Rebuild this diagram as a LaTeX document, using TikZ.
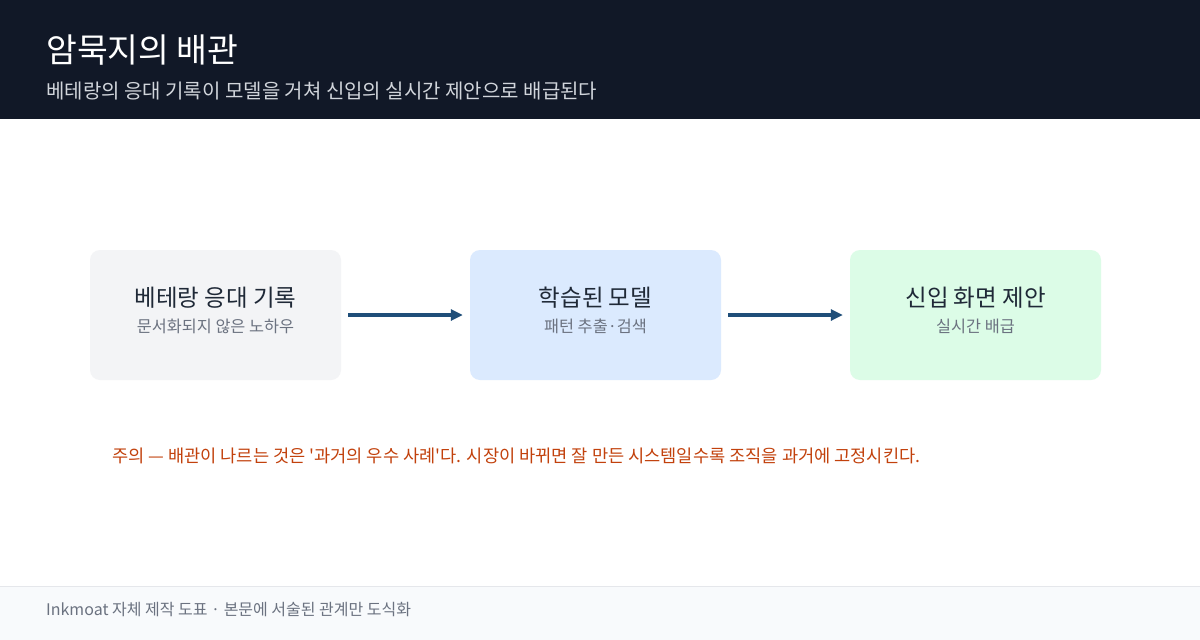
\documentclass[tikz,border=0pt]{standalone}
\usepackage{fontspec}
\setmainfont{Noto Sans CJK KR}
\newfontfamily\kr{Noto Sans CJK KR}
\usetikzlibrary{arrows.meta}
\definecolor{hdr}{HTML}{111827}
\definecolor{subt}{HTML}{D1D5DB}
\definecolor{boxa}{HTML}{F3F4F6}
\definecolor{boxb}{HTML}{DBEAFE}
\definecolor{boxc}{HTML}{DCFCE7}
\definecolor{ttl}{HTML}{1F2937}
\definecolor{grayt}{HTML}{6B7280}
\definecolor{arr}{HTML}{1F4E79}
\definecolor{note}{HTML}{C2410C}
\definecolor{foot}{HTML}{F8FAFC}
\definecolor{footline}{HTML}{E5E7EB}
\tikzset{
  x=1pt,y=-1pt,
  stagebox/.style={draw=none,rounded corners=10pt,minimum width=251pt,minimum height=130pt,inner sep=0pt},
  boxtitle/.style={font=\kr\fontsize{23.5}{28}\selectfont,text=ttl,anchor=base},
  boxsub/.style={font=\kr\fontsize{16.3}{19}\selectfont,text=grayt,anchor=base},
  flow/.style={draw=arr,line width=4pt,-{Triangle[length=12pt,width=11pt]}}
}
\begin{document}
\begin{tikzpicture}
\useasboundingbox (0,0) rectangle (1200,640);
\fill[white] (0,0) rectangle (1200,640);
\fill[hdr] (0,0) rectangle (1200,119);
\node[anchor=base west,inner sep=0pt,text=white,font=\kr\fontsize{33.5}{40}\selectfont] (title) at (46,62) {암묵지의 배관};
\node[anchor=base west,inner sep=0pt,text=subt,font=\kr\fontsize{20}{24}\selectfont] (subtitle) at (46,98) {베테랑의 응대 기록이 모델을 거쳐 신입의 실시간 제안으로 배급된다};
\node[stagebox,fill=boxa] (a) at (215.5,315) {};
\node[stagebox,fill=boxb] (b) at (595.5,315) {};
\node[stagebox,fill=boxc] (c) at (975.5,315) {};
\node[boxtitle] (at) at (215.5,306) {베테랑 응대 기록};
\node[boxsub] (as) at (215.5,332) {문서화되지 않은 노하우};
\node[boxtitle] (bt) at (595.5,306) {학습된 모델};
\node[boxsub] (bs) at (595.5,332) {패턴 추출·검색};
\node[boxtitle] (ct) at (975.5,306) {신입 화면 제안};
\node[boxsub] (cs) at (975.5,332) {실시간 배급};
\draw[flow] ([xshift=7pt]a.east) -- ([xshift=-7pt]b.west);
\draw[flow] ([xshift=7pt]b.east) -- ([xshift=-7pt]c.west);
\node[anchor=base west,inner sep=0pt,text=note,font=\kr\fontsize{17.6}{21}\selectfont] (n) at (112,462) {주의 — 배관이 나르는 것은 '과거의 우수 사례'다. 시장이 바뀌면 잘 만든 시스템일수록 조직을 과거에 고정시킨다.};
\fill[foot] (0,586) rectangle (1200,640);
\draw[footline,line width=1pt] (0,586) -- (1200,586);
\node[anchor=base west,inner sep=0pt,text=grayt,font=\kr\fontsize{16}{19}\selectfont] (f) at (46,615) {Inkmoat 자체 제작 도표 · 본문에 서술된 관계만 도식화};
\end{tikzpicture}
\end{document}
